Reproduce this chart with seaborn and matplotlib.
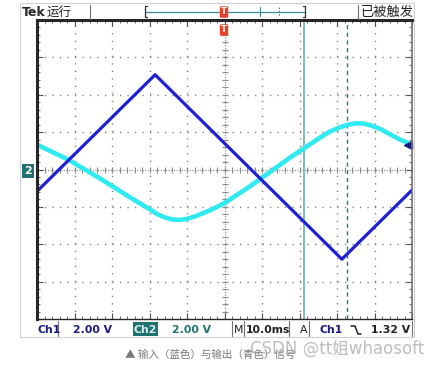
import numpy as np
import pandas as pd
import matplotlib
matplotlib.use("Agg")
import matplotlib.pyplot as plt
from matplotlib.lines import Line2D
from matplotlib.patches import Rectangle
import seaborn as sns

# scope trace data: time in ms (10 ms/div), voltage in V (2 V/div)
ch1_t = [0, 31.5, 81.3, 100]
ch1_v = [-1.17, 5.07, -4.8, -1.1]

ch2_t = [0, 8.3, 16.8, 24.8, 30.1, 32.0, 34.0, 36.0, 38.0, 40.0, 42.0, 44.0,
         46.5, 50.0, 56.8, 67.5, 75.5, 78.0, 80.8, 83.0, 85.0, 87.0, 89.0,
         91.5, 96.8, 100]
ch2_v = [1.33, 0.53, -0.48, -1.49, -2.13, -2.38, -2.56, -2.67, -2.7, -2.64,
         -2.52, -2.36, -2.15, -1.8, -0.9, 0.64, 1.71, 2.02, 2.26, 2.4, 2.47,
         2.46, 2.36, 2.17, 1.6, 1.33]

cursor_a = 71.2
cursor_b = 82.7
trig_level = 1.32

W, H = 442, 368
BLUE = "#1f1fd6"
CYAN = "#30eaf2"
TEAL = "#207272"
NAVY = "#1a1a7a"

sns.set_style("white")
plt.rcParams["font.family"] = ["DejaVu Sans", "Noto Sans CJK SC"]


def fx(x):
    return x / W


def fy(y):
    return 1 - y / H


def fline(xs, ys, **kw):
    fig.add_artist(Line2D([fx(v) for v in xs], [fy(v) for v in ys],
                          transform=fig.transFigure, **kw))


fig = plt.figure(figsize=(W / 100, H / 100), dpi=100)
ax = fig.add_axes([fx(37), fy(319), fx(412) - fx(37), fy(20) - fy(319)])
ax.set_xlim(0, 100)
ax.set_ylim(-8, 8)

# graticule
for t in np.arange(10, 100, 10):
    if t != 50:
        ax.axvline(t, color="#7a7a7a", lw=1.0, ls=(0, (0.9, 4.5)), zorder=0)
for v in np.arange(-6, 8, 2):
    if v != 0:
        ax.axhline(v, color="#7a7a7a", lw=1.0, ls=(0, (0.9, 4.5)), zorder=0)
ax.axhline(0, color="#8a8a8a", lw=0.9, ls=(0, (0.9, 1.2)), zorder=0)
ax.axvline(50, color="#8a8a8a", lw=0.9, ls=(0, (0.9, 1.2)), zorder=0)
minor_t = np.arange(0, 100.1, 2)
ax.plot(minor_t, np.zeros_like(minor_t), ls="", marker="|", ms=4,
        mew=0.8, color="#8a8a8a", zorder=0)
minor_v = np.arange(-8, 8.1, 0.4)
ax.plot(np.full_like(minor_v, 50), minor_v, ls="", marker="_", ms=4,
        mew=0.8, color="#8a8a8a", zorder=0)

# cursors
ax.axvline(cursor_a, color="#5fa8a8", lw=1.1, zorder=1)
ax.axvline(cursor_b, color="#2a7a7a", lw=1.0, ls=(0, (3, 2.5)), zorder=1)

# traces
sns.lineplot(x=ch2_t, y=ch2_v, ax=ax, color=CYAN, lw=3.3, zorder=3)
sns.lineplot(x=ch1_t, y=ch1_v, ax=ax, color=BLUE, lw=2.3, zorder=4)

# trigger level marker
ax.plot([99.0], [trig_level], marker="<", ms=6, color=NAVY, clip_on=False, zorder=5)

ax.set_xticks(np.arange(0, 101, 10))
ax.set_xticks(np.arange(0, 101, 2), minor=True)
ax.set_yticks(np.arange(-8, 9, 2))
ax.set_yticks(np.arange(-8, 8.1, 0.4), minor=True)
ax.tick_params(which="both", direction="in", top=True, bottom=True,
               left=True, right=True, labelbottom=False, labelleft=False,
               color="#505050")
ax.tick_params(which="major", length=4, width=0.8)
ax.tick_params(which="minor", length=2.5, width=0.6)
ax.spines["left"].set_linewidth(2.2)
ax.spines["top"].set_linewidth(2.2)
ax.spines["bottom"].set_linewidth(1.0)
ax.spines["right"].set_linewidth(1.2)
ax.spines["right"].set_color("#707070")
for s in ax.spines.values():
    s.set_zorder(6)

# outer frame
fig.add_artist(Rectangle((fx(20), fy(337)), fx(414) - fx(20), fy(3) - fy(337),
                         transform=fig.transFigure, fill=False,
                         ec="#d0d0d0", lw=0.8))

# top status bar
fig.text(fx(22), fy(12), "Tek", fontsize=9, weight="bold", va="center")
fig.text(fx(47), fy(12), "运行", fontsize=9, va="center",
         family=["Noto Sans CJK SC", "DejaVu Sans"])
fline([90, 90], [5, 19], color="#707070", lw=0.8)
fline([358, 358], [5, 19], color="#707070", lw=0.8)
fline([145, 305], [11.5, 11.5], color="#3a8a8a", lw=0.9)
fline([147, 145, 145, 147], [6, 6, 17, 17], color="#303030", lw=0.9)
fline([303, 305, 305, 303], [6, 6, 17, 17], color="#303030", lw=0.9)
fline([260, 260], [7, 16], color="#3a8a8a", lw=0.8)
fline([279, 279], [7, 16], color="#3a8a8a", lw=0.8, ls=(0, (1.5, 1.5)))
fig.text(fx(224), fy(12), "T", fontsize=6, weight="bold", color="white",
         ha="center", va="center",
         bbox=dict(boxstyle="round,pad=0.15", fc="#e8402a", ec="none"))
fig.text(fx(224), fy(30), "T", fontsize=6, weight="bold", color="white",
         ha="center", va="center",
         bbox=dict(boxstyle="round,pad=0.15", fc="#e8402a", ec="none"))
fig.text(fx(414), fy(12), "已被触发", fontsize=9.5, ha="right", va="center",
         family=["Noto Sans CJK SC", "DejaVu Sans"], color="#202020")

# channel ground marker
fig.text(fx(28), fy(171), "2", fontsize=8, weight="bold", color="white",
         ha="center", va="center",
         bbox=dict(boxstyle="square,pad=0.2", fc=TEAL, ec="none"))

# bottom status bar
sy = fy(330)
fig.text(fx(37), sy, "Ch1", fontsize=7.8, weight="bold", color=NAVY, va="center")
fline([58, 58], [321, 336], color="#707070", lw=0.8)
fig.text(fx(73), sy, "2.00 V", fontsize=7.8, weight="bold", color=NAVY, va="center")
fig.add_artist(Rectangle((fx(133), fy(336)), fx(158) - fx(133), fy(322) - fy(336),
                         transform=fig.transFigure, fc=TEAL, ec="none"))
fig.text(fx(145.5), sy, "Ch2", fontsize=7.8, weight="bold", color="#d8f0f0",
         ha="center", va="center")
fig.text(fx(172), sy, "2.00 V", fontsize=7.8, weight="bold", color=TEAL, va="center")
fline([232, 232], [321, 336], color="#707070", lw=0.8)
fig.text(fx(234), sy, "M", fontsize=7.8, color="#202020", va="center")
fline([244, 244], [321, 336], color="#707070", lw=0.8)
fig.text(fx(246), sy, "10.0ms", fontsize=7.8, weight="bold", color="#202020", va="center")
fline([289, 289], [321, 336], color="#707070", lw=0.8)
fig.text(fx(300), sy, "A", fontsize=7.8, color="#202020", va="center")
fline([309, 309], [321, 336], color="#707070", lw=0.8)
fig.text(fx(319), sy, "Ch1", fontsize=7.8, weight="bold", color=NAVY, va="center")
fline([351, 355, 358, 361], [326, 326, 334, 334], color="#202020", lw=1.1)
fig.text(fx(410), sy, "1.32 V", fontsize=7.8, weight="bold", color="#202020",
         ha="right", va="center")
fline([412, 412], [321, 336], color="#707070", lw=0.8)

# caption and watermark (they overlap in the source image too)
fig.text(fx(125), fy(355), "▲ 输入（蓝色）与输出（青色）信号", fontsize=7.6,
         color="#7a7a7a", va="center",
         family=["Noto Sans CJK SC", "DejaVu Sans"])
fig.text(fx(250), fy(349), "CSDN @tt姐whaosoft", fontsize=12,
         color="#a8a8a8", alpha=0.75, va="center")

fig.savefig("out.png", dpi=100)
